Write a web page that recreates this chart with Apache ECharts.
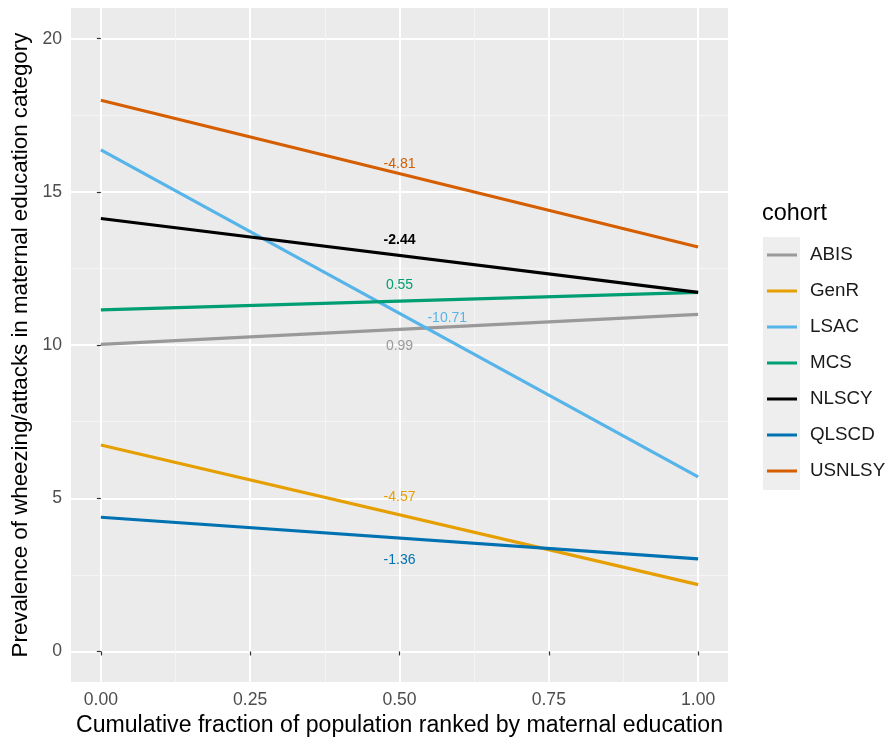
<!DOCTYPE html>
<html>
<head>
<meta charset="utf-8">
<script src="https://cdn.jsdelivr.net/npm/echarts@6/dist/echarts.min.js"></script>
<style>
html,body{margin:0;padding:0;background:#fff;}
#chart{width:889px;height:742px;}
</style>
</head>
<body>
<div id="chart"></div>
<script>
const cohorts = ['ABIS', 'GenR', 'LSAC', 'MCS', 'NLSCY', 'QLSCD', 'USNLSY'];
const cohortColors = ['#999999', '#E69F00', '#56B4E9', '#009E73', '#000000', '#0072B2', '#D55E00'];
const fractionEnds = [0, 1];
const prevalenceAtStart = [10.02, 6.74, 16.37, 11.15, 14.13, 4.38, 17.99];
const prevalenceAtEnd = [11.00, 2.18, 5.70, 11.72, 11.72, 3.02, 13.20];
const siiText = ['0.99', '-4.57', '-10.71', '0.55', '-2.44', '-1.36', '-4.81'];
const siiLabelX = [0.5, 0.5, 0.58, 0.5, 0.5, 0.5, 0.5];
const siiLabelY = [9.95, 5.05, 10.89, 11.94, 13.43, 2.99, 15.92];
const xTickValues = [0, 0.25, 0.5, 0.75, 1];
const yTickValues = [0, 5, 10, 15, 20];
const xMinorValues = [0.125, 0.375, 0.625, 0.875];
const yMinorValues = [2.5, 7.5, 12.5, 17.5];

const FONT = '"Liberation Sans", Arial, sans-serif';
const chart = echarts.init(document.getElementById('chart'), null, {renderer: 'canvas'});

const series = cohorts.map((name, i) => ({
  name: name,
  type: 'line',
  xAxisIndex: 0,
  yAxisIndex: 0,
  showSymbol: false,
  symbol: 'none',
  animation: false,
  color: cohortColors[i],
  lineStyle: {width: 3.2, color: cohortColors[i]},
  data: fractionEnds.map((x, k) => [x, k === 0 ? prevalenceAtStart[i] : prevalenceAtEnd[i]]),
  markPoint: {
    symbol: 'circle',
    symbolSize: 0,
    animation: false,
    silent: true,
    data: [{coord: [siiLabelX[i], siiLabelY[i]], value: siiText[i]}],
    label: {
      show: true,
      position: 'inside',
      formatter: siiText[i],
      color: cohortColors[i],
      fontSize: 14,
      fontFamily: FONT,
      fontWeight: name === 'NLSCY' ? 'bold' : 'normal'
    }
  }
}));

const option = {
  backgroundColor: '#ffffff',
  animation: false,
  textStyle: {fontFamily: FONT},
  title: {
    text: 'cohort',
    left: 762,
    top: 202,
    padding: 0,
    textStyle: {fontSize: 23.4, fontWeight: 'normal', color: '#000', fontFamily: FONT}
  },
  graphic: [{
    type: 'rect',
    left: 763,
    top: 237,
    shape: {width: 37, height: 253},
    style: {fill: '#EEEEEE'},
    z: 0,
    silent: true
  }],
  legend: {
    orient: 'vertical',
    left: 767,
    top: 245,
    padding: 0,
    itemWidth: 30,
    itemHeight: 3,
    itemGap: 16,
    icon: 'rect',
    data: cohorts,
    textStyle: {fontSize: 18.8, lineHeight: 20, color: '#1a1a1a', fontFamily: FONT, padding: [0, 0, 0, 8]}
  },
  grid: {
    left: 71, right: 161, top: 8, bottom: 56,
    show: true, backgroundColor: '#EBEBEB', borderWidth: 0
  },
  xAxis: [{
    type: 'value',
    min: -0.05, max: 1.05,
    name: 'Cumulative fraction of population ranked by maternal education',
    nameLocation: 'middle',
    nameGap: 30,
    nameTextStyle: {fontSize: 23.1, color: '#000', fontFamily: FONT},
    axisLine: {show: false},
    axisTick: {show: true, length: 4, customValues: xTickValues, lineStyle: {color: '#333333', width: 1.2}},
    axisLabel: {show: true, customValues: xTickValues, margin: 9, fontSize: 17.6, color: '#4D4D4D', fontFamily: FONT,
      formatter: v => v.toFixed(2)},
    splitLine: {show: true, lineStyle: {color: '#ffffff', width: 2}}
  }, {
    type: 'value',
    min: -0.05, max: 1.05,
    gridIndex: 0,
    axisLine: {show: false},
    axisTick: {show: false, customValues: xMinorValues},
    axisLabel: {show: false, customValues: xMinorValues},
    splitLine: {show: true, lineStyle: {color: '#F5F5F5', width: 1}}
  }],
  yAxis: [{
    type: 'value',
    min: -1, max: 21,
    name: 'Prevalence of wheezing/attacks in maternal education category',
    nameLocation: 'middle',
    nameGap: 38,
    nameTextStyle: {fontSize: 22.3, color: '#000', fontFamily: FONT},
    axisLine: {show: false},
    axisTick: {show: true, length: 4, customValues: yTickValues, lineStyle: {color: '#333333', width: 1.2}},
    axisLabel: {show: true, customValues: yTickValues, margin: 9, fontSize: 17.6, color: '#4D4D4D', fontFamily: FONT},
    splitLine: {show: true, lineStyle: {color: '#ffffff', width: 2}}
  }, {
    type: 'value',
    min: -1, max: 21,
    gridIndex: 0,
    axisLine: {show: false},
    axisTick: {show: false, customValues: yMinorValues},
    axisLabel: {show: false, customValues: yMinorValues},
    splitLine: {show: true, lineStyle: {color: '#F5F5F5', width: 1}}
  }],
  series: series
};
chart.setOption(option);
</script>
</body>
</html>
